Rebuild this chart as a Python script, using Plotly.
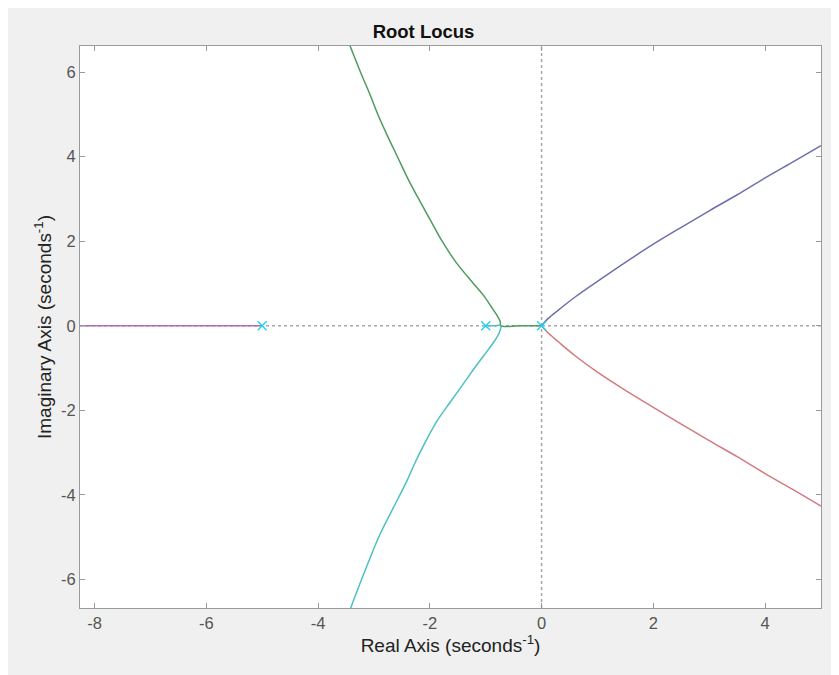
import plotly.graph_objects as go

# Pole locations (open-loop)
pole_re = [-5, -1, 0]
pole_im = [0, 0, 0]

# Branch points (real, imaginary)
blue_re = [0.0, 0.1, 0.3, 0.6, 1.0, 1.5, 2.0, 2.5, 3.0, 3.5, 4.0, 4.5, 5.0]
blue_im = [0.0, 0.15, 0.37, 0.68, 1.05, 1.50, 1.93, 2.33, 2.72, 3.10, 3.50, 3.88, 4.26]

red_re = [0.0, 0.1, 0.3, 0.6, 1.0, 1.5, 2.0, 2.5, 3.0, 3.5, 4.0, 4.5, 5.0]
red_im = [0.0, -0.15, -0.38, -0.71, -1.10, -1.53, -1.93, -2.33, -2.72, -3.10, -3.50, -3.88, -4.27]

green_re = [0.0, -0.4, -0.73, -0.74, -0.80, -0.90, -1.03, -1.22, -1.53, -1.78, -1.99, -2.20, -2.40, -2.58, -2.76, -2.93, -3.08, -3.24, -3.45]
green_im = [0.0, 0.0, 0.0, 0.10, 0.25, 0.45, 0.70, 1.00, 1.50, 2.00, 2.50, 3.00, 3.50, 4.00, 4.50, 5.00, 5.50, 6.00, 6.70]

cyan_re = [-1.0, -0.85, -0.73, -0.74, -0.79, -0.89, -1.03, -1.20, -1.36, -1.63, -1.87, -2.10, -2.25, -2.41, -2.65, -2.89, -3.07, -3.25, -3.45]
cyan_im = [0.0, 0.0, 0.0, -0.10, -0.25, -0.45, -0.70, -1.00, -1.30, -1.80, -2.25, -2.80, -3.20, -3.67, -4.30, -4.93, -5.50, -6.10, -6.80]

magenta_re = [-5.0, -9.0]
magenta_im = [0.0, 0.0]

x_ticks = [-8, -6, -4, -2, 0, 2, 4]
y_ticks = [-6, -4, -2, 0, 2, 4, 6]

FONT = "Liberation Sans, Arial, Helvetica, sans-serif"

fig = go.Figure()

branches = [
    (magenta_re, magenta_im, "#b06cb8", "linear"),
    (green_re, green_im, "#4f9c5e", "spline"),
    (cyan_re, cyan_im, "#4cc0c4", "spline"),
    (blue_re, blue_im, "#6f6fae", "spline"),
    (red_re, red_im, "#d47a80", "spline"),
]
for xr, yi, col, shp in branches:
    fig.add_trace(go.Scatter(x=xr, y=yi, mode="lines",
                             line=dict(color=col, width=1.5, shape=shp, smoothing=1.0),
                             hoverinfo="skip", showlegend=False))

fig.add_trace(go.Scatter(x=pole_re, y=pole_im, mode="markers",
                         marker=dict(symbol="x-thin-open", size=9,
                                     line=dict(color="#6a98c8", width=1.3)),
                         showlegend=False))

# dotted reference axes
fig.add_shape(type="line", xref="x", yref="paper", x0=0, x1=0, y0=0, y1=1,
              line=dict(color="#a8a8a8", width=1.5, dash="dot"), layer="below")
fig.add_shape(type="line", xref="paper", yref="y", x0=0, x1=1, y0=0, y1=0,
              line=dict(color="#a8a8a8", width=1.5, dash="dot"), layer="below")

axis_common = dict(
    showgrid=False, zeroline=False, showline=True, linecolor="#9a9a9a", linewidth=1,
    mirror="ticks", ticks="inside", ticklen=5, tickcolor="#9a9a9a",
    tickfont=dict(family=FONT, size=16.5, color="#555555"),
)

fig.update_layout(
    width=831, height=667,
    paper_bgcolor="#f0f0f0", plot_bgcolor="#ffffff",
    margin=dict(l=72, r=18, t=38, b=67),
    title=dict(text="<b>Root Locus</b>", x=0.5, xanchor="center", y=0.964, yanchor="middle",
               font=dict(family=FONT, size=18.5, color="#111111")),
    xaxis=dict(range=[-8.26, 5.0], tickvals=x_ticks, ticktext=[str(v) for v in x_ticks],
               title=dict(text="Real Axis (seconds<sup>-1</sup>)", standoff=6,
                          font=dict(family=FONT, size=19, color="#222222")),
               **axis_common),
    yaxis=dict(range=[-6.68, 6.62], tickvals=y_ticks, ticktext=[str(v) for v in y_ticks],
               title=dict(text="Imaginary Axis (seconds<sup>-1</sup>)", standoff=4,
                          font=dict(family=FONT, size=19, color="#222222")),
               **axis_common),
)

fig.write_html("out.html")
